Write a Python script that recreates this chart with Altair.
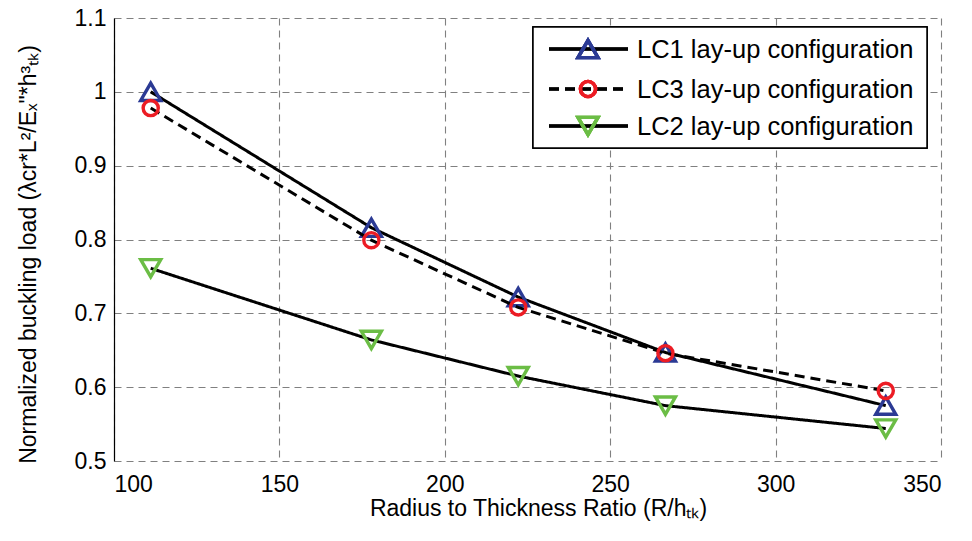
import altair as alt
import pandas as pd

# ---- data ----
ratio = [111.1, 177.8, 222.2, 266.7, 333.3]
lc1 = [1.000, 0.816, 0.722, 0.647, 0.575]
lc3 = [0.978, 0.799, 0.708, 0.646, 0.595]
lc2 = [0.761, 0.664, 0.615, 0.575, 0.544]

series_names = ["LC1 lay-up configuration", "LC3 lay-up configuration", "LC2 lay-up configuration"]
series_values = [lc1, lc3, lc2]
series_shapes = ["triangle-up", "circle", "triangle-down"]
series_colors = ["#2B3A94", "#EC1C24", "#6BBD45"]
series_dash = [[1, 0], [10, 6], [1, 0]]
series_sizes = [400, 230, 400]

x_ticks = [100, 150, 200, 250, 300, 350]
y_ticks = [0.5, 0.6, 0.7, 0.8, 0.9, 1.0, 1.1]

FONT = "Liberation Sans"
W, H = 827, 443

rows = []
for name, vals in zip(series_names, series_values):
    for r, v in zip(ratio, vals):
        rows.append({"series": name, "ratio": r, "load": v})
df = pd.DataFrame(rows)

x_enc = alt.X(
    "ratio:Q",
    scale=alt.Scale(domain=[100, 350], nice=False, zero=False),
    axis=alt.Axis(
        values=x_ticks,
        title="Radius to Thickness Ratio (R/hₜₖ)",
        titleX=424,
        titleY=54,
        titleAnchor="middle",
        titleBaseline="alphabetic",
        labelPadding=12,
        domain=False,
        ticks=False,
    ),
)
y_enc = alt.Y(
    "load:Q",
    scale=alt.Scale(domain=[0.5, 1.1], nice=False, zero=False),
    axis=alt.Axis(
        values=y_ticks,
        format=".1~f",
        title='Normalized buckling load (λcr*L²/Eₓ"*h³ₜₖ)',
        titleX=-86,
        titleY=236,
        titleAngle=270,
        titleAnchor="middle",
        titleBaseline="middle",
        labelPadding=8,
        domain=True,
        domainColor="#000000",
        domainWidth=1.2,
        ticks=False,
    ),
)

layers = []
for name, shape, color, dash, size in zip(series_names, series_shapes, series_colors, series_dash, series_sizes):
    base = alt.Chart(df).transform_filter(alt.datum.series == name)
    layers.append(
        base.mark_line(color="black", strokeWidth=3, strokeDash=dash).encode(x=x_enc, y=y_enc)
    )
    layers.append(
        base.mark_point(shape=shape, filled=False, stroke=color, strokeWidth=3.4, size=size, opacity=1).encode(
            x=x_enc, y=y_enc
        )
    )

# ---- legend box (layout only) ----
legend_df = pd.DataFrame({"label": series_names})
box = alt.Chart(legend_df).mark_rect(fill="white", stroke="black", strokeWidth=1.5).encode(
    x=alt.value(419), x2=alt.value(813), y=alt.value(9), y2=alt.value(130)
)
layers.append(box)
row_y = [31, 71, 108]
for name, shape, color, dash, size, ry in zip(series_names, series_shapes, series_colors, series_dash, series_sizes, row_y):
    layers.append(
        alt.Chart(legend_df).mark_rule(color="black", strokeWidth=3, strokeDash=dash).encode(
            x=alt.value(435), x2=alt.value(514), y=alt.value(ry)
        )
    )
    layers.append(
        alt.Chart(legend_df).mark_point(shape=shape, filled=False, stroke=color, strokeWidth=3.4, size=size, opacity=1).encode(
            x=alt.value(474), y=alt.value(ry)
        )
    )
    layers.append(
        alt.Chart(legend_df)
        .transform_filter(alt.datum.label == name)
        .mark_text(align="left", baseline="middle", fontSize=25.5, font=FONT, color="black")
        .encode(x=alt.value(523), y=alt.value(ry + 1), text="label:N")
    )

chart = (
    alt.layer(*layers)
    .properties(
        width=W,
        height=H,
        autosize=alt.AutoSizeParams(type="none"),
        padding={"left": 106, "top": 10, "right": 23, "bottom": 72},
        background="white",
    )
    .configure_view(stroke=None)
    .configure_axis(
        grid=True,
        gridColor="#808080",
        gridDash=[7, 5],
        gridWidth=1.1,
        labelFont=FONT,
        labelFontSize=23,
        labelColor="black",
        titleFont=FONT,
        titleFontSize=23,
        titleFontWeight="normal",
        titleColor="black",
    )
)

chart.save("out.html", embed_options={"renderer": "svg", "actions": False})
